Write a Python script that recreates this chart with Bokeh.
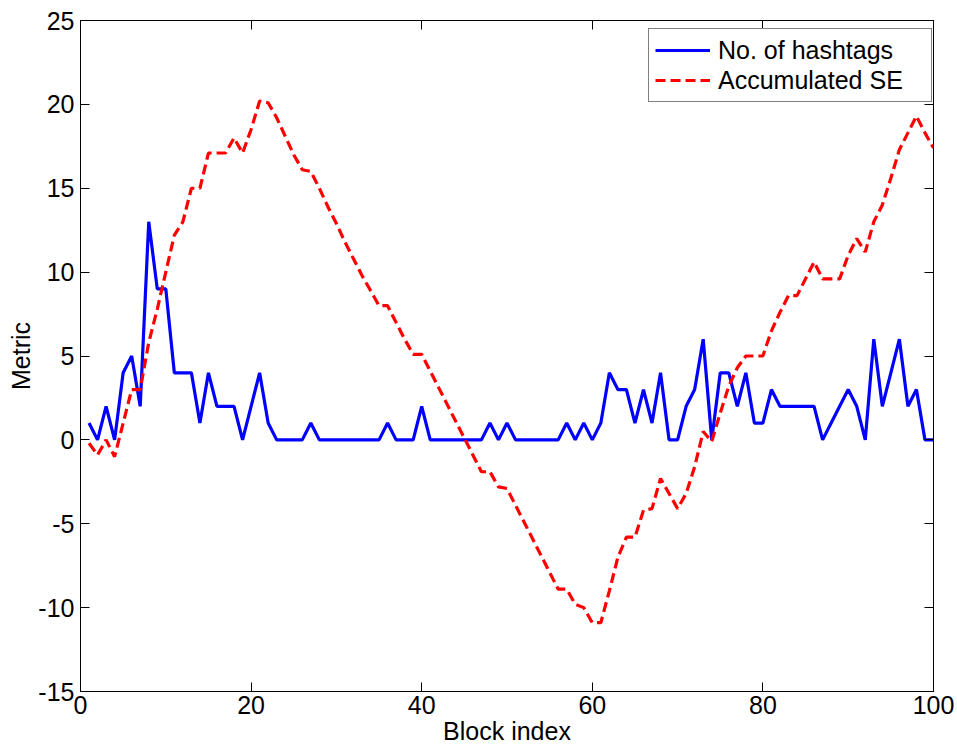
from bokeh.plotting import figure
from bokeh.models import Range1d, LinearAxis, FixedTicker, CustomJSTickFormatter
from bokeh.embed import file_html
from bokeh.resources import INLINE

block_index = list(range(1, 101))

hashtags = [1, 0, 2, 0, 4, 5, 2, 13, 9, 9,
            4, 4, 4, 1, 4, 2, 2, 2, 0, 2,
            4, 1, 0, 0, 0, 0, 1, 0, 0, 0,
            0, 0, 0, 0, 0, 1, 0, 0, 0, 2,
            0, 0, 0, 0, 0, 0, 0, 1, 0, 1,
            0, 0, 0, 0, 0, 0, 1, 0, 1, 0,
            1, 4, 3, 3, 1, 3, 1, 4, 0, 0,
            2, 3, 6, 0, 4, 4, 2, 4, 1, 1,
            3, 2, 2, 2, 2, 2, 0, 1, 2, 3,
            2, 0, 6, 2, 4, 6, 2, 3, 0, 0]

accumulated_se = [-0.2, -0.9, 0.0, -1.0, 1.0, 3.0, 3.0, 5.8, 7.8, 10.0,
                  12.2, 13.0, 15.0, 15.0, 17.1, 17.1, 17.1, 18.0, 17.1, 18.5,
                  20.2, 20.1, 19.2, 18.1, 17.0, 16.1, 16.0, 15.0, 13.9, 12.9,
                  11.8, 10.8, 9.8, 8.9, 8.0, 8.0, 7.0, 6.0, 5.1, 5.1,
                  4.1, 3.1, 2.1, 1.1, 0.1, -0.9, -1.9, -1.9, -2.8, -2.9,
                  -3.9, -4.9, -5.9, -6.9, -7.9, -8.9, -8.9, -9.8, -10.0, -10.9,
                  -10.9, -9.0, -7.0, -5.8, -5.8, -4.2, -4.1, -2.3, -3.2, -4.1,
                  -3.2, -1.6, 0.5, -0.1, 1.6, 3.2, 4.3, 5.0, 5.0, 5.0,
                  6.5, 7.6, 8.6, 8.6, 9.6, 10.6, 9.6, 9.6, 9.6, 11.0,
                  12.0, 11.2, 13.0, 14.0, 15.6, 17.3, 18.3, 19.3, 18.3, 17.4]

x_ticks = [0, 20, 40, 60, 80, 100]
y_ticks = [-15, -10, -5, 0, 5, 10, 15, 20, 25]

FONT = "Liberation Sans"
FS = "25px"

p = figure(width=957, height=751,
           x_range=Range1d(0, 100), y_range=Range1d(-15, 25),
           output_backend="svg", toolbar_location=None,
           min_border_left=80, min_border_right=24,
           min_border_top=20, min_border_bottom=60)

p.background_fill_color = "white"
p.border_fill_color = "white"
p.outline_line_color = "black"
p.outline_line_width = 1
p.xgrid.visible = False
p.ygrid.visible = False

p.xaxis.axis_label = "Block index"
p.yaxis.axis_label = "Metric"

for ax, ticks in ((p.xaxis[0], x_ticks), (p.yaxis[0], y_ticks)):
    ax.ticker = FixedTicker(ticks=ticks)
    ax.major_label_overrides = {t: str(t) for t in ticks}
    ax.major_tick_in = 9
    ax.major_tick_out = 0
    ax.minor_tick_line_color = None
    ax.axis_line_color = "black"
    ax.major_tick_line_color = "black"
    ax.major_label_text_font = FONT
    ax.major_label_text_font_size = FS
    ax.major_label_text_color = "black"
    ax.major_label_standoff = 4
    ax.axis_label_text_font = FONT
    ax.axis_label_text_font_size = FS
    ax.axis_label_text_font_style = "normal"
    ax.axis_label_text_color = "black"
    ax.axis_label_standoff = 0

p.yaxis[0].major_label_standoff = 6

# mirrored ticks on top and right (no labels)
for loc, ticks in (("above", x_ticks), ("right", y_ticks)):
    ax = LinearAxis(ticker=FixedTicker(ticks=ticks),
                    formatter=CustomJSTickFormatter(code="return ''"),
                    major_tick_in=9, major_tick_out=0,
                    minor_tick_line_color=None,
                    major_label_standoff=0,
                    axis_line_color="black", major_tick_line_color="black")
    p.add_layout(ax, loc)

p.line(block_index, hashtags, line_color="#0000FF", line_width=3.2,
       legend_label="No. of hashtags")
p.line(block_index, accumulated_se, line_color="#FF0000", line_width=3.2,
       line_dash="10 5", legend_label="Accumulated SE")

lg = p.legend[0]
lg.location = (568, 589)
lg.border_line_color = "black"
lg.border_line_width = 1
lg.background_fill_color = "white"
lg.background_fill_alpha = 1
lg.label_text_font = FONT
lg.label_text_font_size = FS
lg.label_text_color = "black"
lg.glyph_width = 55
lg.glyph_height = 30
lg.label_height = 30
lg.label_width = 207
lg.label_standoff = 8
lg.spacing = 0
lg.padding = 6
lg.margin = 0

open("out.html", "w").write(file_html(p, INLINE))
